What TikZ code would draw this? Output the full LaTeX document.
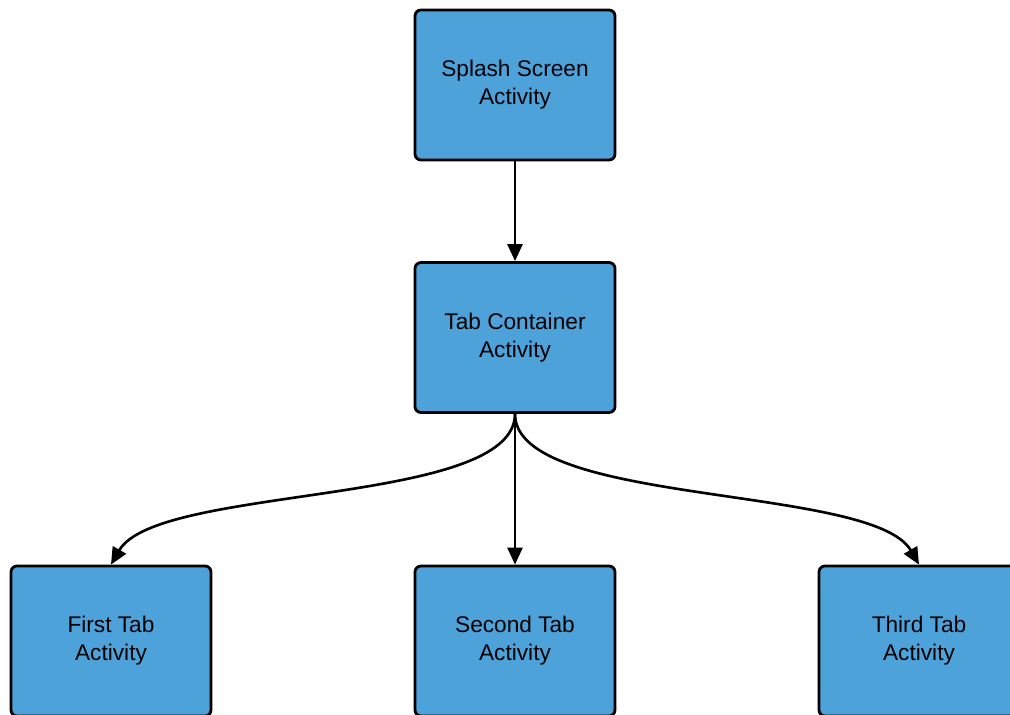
\documentclass[tikz,border=0pt]{standalone}
\usepackage{fontspec}
\setmainfont{Liberation Sans}
\usepackage{xcolor}
\usepackage{tikz}
\usetikzlibrary{arrows.meta}
\definecolor{actBlue}{RGB}{77,162,218}
\tikzset{
box/.style = {rectangle, draw=black, fill=actBlue, line width=1.6pt,
              rounded corners=0.12cm, minimum width=#1, minimum height=3.0cm,
              align=center, inner sep=0pt,
              font=\fontsize{12.9}{15.9}\selectfont},
box/.default = 4.0cm, % width of the activity boxes
}
\tikzset{
flow/.style = {line width=1.5pt, -{Triangle[length=0.34cm, width=0.3cm]}}
}

\begin{document}
\begin{tikzpicture}
  \useasboundingbox (0,0) rectangle (20.2,-14.28);
  % Boxes
    \node[box] (splashBox) at (10.30,-1.70) {Splash Screen\\Activity};
    \node[box] (tabBox) at (10.30,-6.75) {Tab Container\\Activity};
    \node[box] (firstBox) at (2.22,-12.82) {First Tab\\Activity};
    \node[box] (secondBox) at (10.30,-12.82) {Second Tab\\Activity};
    \node[box] (thirdBox) at (18.38,-12.82) {Third Tab\\Activity};

  % Lines
    \draw[flow] (splashBox) -- (tabBox);
    \draw[flow] (tabBox) -- (secondBox);
    \draw[flow] (tabBox.south) to[out=-90, in=60, looseness=0.55] (firstBox.north);
    \draw[flow] (tabBox.south) to[out=-90, in=120, looseness=0.55] (thirdBox.north);
\end{tikzpicture}
\end{document}
